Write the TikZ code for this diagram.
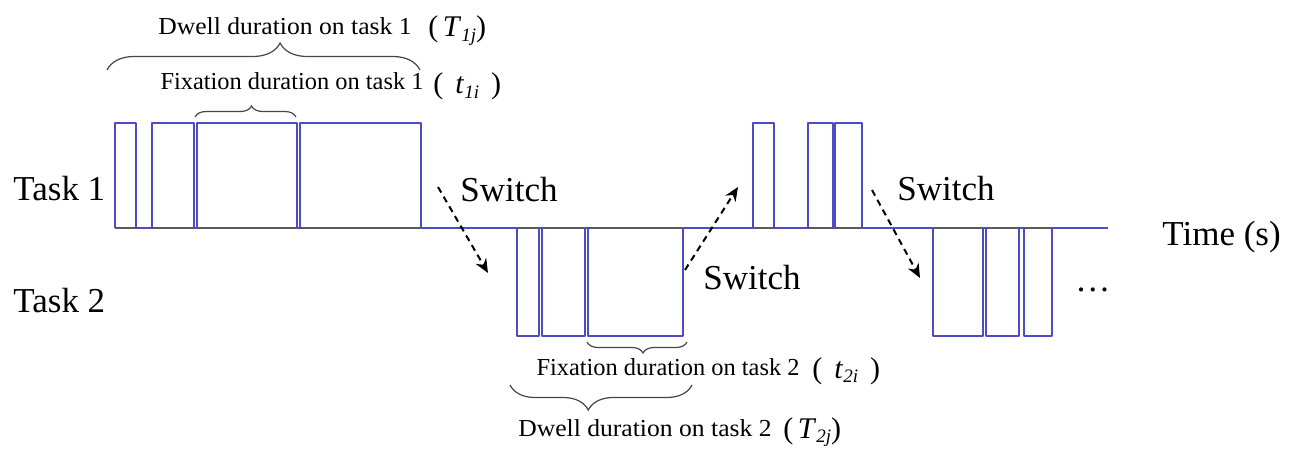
\documentclass[tikz,border=0pt]{standalone}
\usepackage{fontspec}
\setmainfont{Liberation Serif}
\newfontfamily\dwellfont[FakeStretch=1.05]{Liberation Serif}
\usetikzlibrary{arrows.meta,decorations.pathreplacing}
\definecolor{pulseblue}{RGB}{76,76,196}
\definecolor{basegray}{RGB}{90,90,90}
\definecolor{bracegray}{RGB}{70,70,70}
\newcommand{\mylab}[2]{{\fontsize{15}{15}\selectfont(\hspace{0.15em}\textit{#1}\raisebox{-0.35ex}{\fontsize{9.5}{9.5}\selectfont\textit{#2}})}}
\newcommand{\mylabsp}[2]{{\fontsize{15}{15}\selectfont(\hspace{0.4em}\textit{#1}\raisebox{-0.35ex}{\fontsize{9.5}{9.5}\selectfont\textit{#2}}\hspace{0.4em})}}
\tikzset{
  pulse/.style={draw=pulseblue, line width=0.8pt, line join=round},
  pbase/.style={draw=basegray, line width=0.8pt},
  axisline/.style={draw=pulseblue, line width=0.8pt},
  brc/.style={draw=bracegray, line width=0.6pt, decorate},
  swarrow/.style={draw=black, line width=1pt, dash pattern=on 3.2pt off 2.4pt, -{Stealth[length=7pt,width=6pt]}},
  bigtxt/.style={inner sep=0pt, font=\fontsize{17.5}{18}\selectfont},
  smalltxt/.style={inner sep=0pt, font=\fontsize{12.2}{13}\selectfont},
  dwelltxt/.style={inner sep=0pt, font=\dwellfont\fontsize{12.2}{13}\selectfont},
  mathtxt/.style={inner sep=0pt},
}
\begin{document}
\begin{tikzpicture}[x=0.5pt, y=-0.5pt]
\useasboundingbox (0,0) rectangle (1294,454);
\fill[white] (0,0) rectangle (1294,454);
% axis
\draw[axisline] (115,228) -- (1108,228);
% task 1 pulses
\foreach \a/\b in {115/136, 152/194, 197/297, 300/421, 753/774, 808/833, 835/862}{
  \draw[pbase] (\a,228) -- (\b,228);
  \draw[pulse] (\a,228) -- (\a,123) -- (\b,123) -- (\b,228);
}
% task 2 pulses
\foreach \a/\b in {517/539, 542/585, 588/683, 933/983, 986/1019, 1024/1052}{
  \draw[pbase] (\a,228) -- (\b,228);
  \draw[pulse] (\a,228) -- (\a,336) -- (\b,336) -- (\b,228);
}
% labels
\node[bigtxt, anchor=base west] (task1) at (13,201) {Task 1};
\node[bigtxt, anchor=base west] (task2) at (13,312) {Task 2};
\node[bigtxt, anchor=base west] (time) at (1162,245) {Time (s)};
\node[bigtxt, anchor=base west] (dots) at (1075,291) {\ldots};
\node[bigtxt, anchor=base west] (sw1) at (460,202) {Switch};
\node[bigtxt, anchor=base west] (sw2) at (703,289) {Switch};
\node[bigtxt, anchor=base west] (sw3) at (897,200) {Switch};
% switch arrows
\coordinate (a1s) at (438,187); \coordinate (a1e) at (488,273);
\coordinate (a2s) at (685,270); \coordinate (a2e) at (738,187);
\coordinate (a3s) at (872,190); \coordinate (a3e) at (920,278);
\draw[swarrow] (a1s) -- (a1e);
\draw[swarrow] (a2s) -- (a2e);
\draw[swarrow] (a3s) -- (a3e);
% braces
\draw[brc, decoration={brace, amplitude=13.5pt, aspect=0.553}] (107,70) -- (420,70);
\draw[brc, decoration={brace, amplitude=5.5pt, aspect=0.56}] (195,117) -- (296,117);
\draw[brc, decoration={brace, amplitude=5.5pt, aspect=0.44}] (687,342) -- (587,342);
\draw[brc, decoration={brace, amplitude=12.5pt, aspect=0.57}] (692,385) -- (510,385);
% brace texts
\node[dwelltxt, anchor=base] (dwell1) at (285,35) {Dwell duration on task 1};
\node[mathtxt, anchor=base west] (T1) at (428,37) {\mylab{T}{1j}};
\node[smalltxt, anchor=base] (fix1) at (292,90) {Fixation duration on task 1};
\node[mathtxt, anchor=base west] (t1) at (433,94) {\mylabsp{t}{1i}};
\node[smalltxt, anchor=base] (fix2) at (668,375) {Fixation duration on task 2};
\node[mathtxt, anchor=base west] (t2) at (812,378) {\mylabsp{t}{2i}};
\node[dwelltxt, anchor=base] (dwell2) at (645,436) {Dwell duration on task 2};
\node[mathtxt, anchor=base west] (T2) at (783,438) {\mylab{T}{2j}};
\end{tikzpicture}
\end{document}
